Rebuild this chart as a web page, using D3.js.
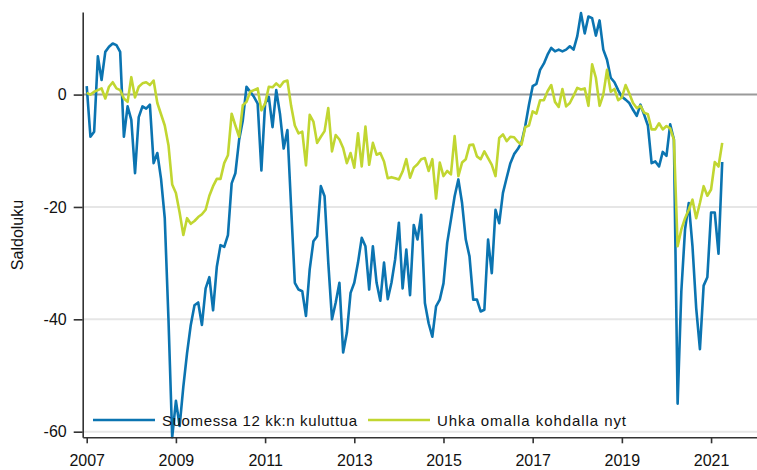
<!DOCTYPE html>
<html>
<head>
<meta charset="utf-8">
<script src="https://cdn.jsdelivr.net/npm/d3@7"></script>
<style>
  body { margin: 0; background: #fff; }
  svg { display: block; font-family: "Liberation Sans", Arial, sans-serif; }
</style>
</head>
<body>
<svg id="chart" width="757" height="470"></svg>
<script>
// monthly series, Jan 2007 - Apr 2021
const startYear = 2007;
const seriesNames = ["Suomessa 12 kk:n kuluttua", "Uhka omalla kohdalla nyt"];

const suomessa = [
  1.5, -7.5, -6.6, 6.8, 2.6, 7.6, 8.5, 9.1, 8.8, 7.6, -7.5, -2.1,
  -4.5, -14, -4, -2.1, -2.5, -1.8, -12.2, -10.4, -15, -22, -40, -61,
  -54.5, -59, -52, -46, -41, -37.5, -37, -41, -34.5, -32.5, -38.4, -30.7,
  -26.8, -27.1, -25, -15.8, -14, -8.1, -4.6, 1.4, 0.5, -0.4, -1.6, -13.5,
  -1.6, -0.4, -5.8, 0.8, -3.4, -9.6, -6.3, -20, -33.5, -34.7, -35, -39.4,
  -31.1, -26.1, -25.2, -16.3, -18.1, -29.9, -40, -37, -33.5, -45.9, -42.4, -35.3,
  -33.5, -29.9, -25.5, -27, -34.7, -27, -33.5, -36.7, -29.9, -36.4, -33.5, -29.3,
  -22.8, -34.5, -27.6, -35.7, -23.2, -25.8, -21.4, -37.1, -40.7, -43.1, -37.7, -36.5,
  -33.6, -26.4, -22.3, -18.1, -15.1, -19.3, -25.8, -28.8, -36.5, -36.5, -38.6, -38.3,
  -25.8, -31.8, -20.5, -22.9, -17.5, -14.8, -12.2, -10.6, -9.7, -8.5, -5.6, -1.8,
  1.5, 1.9, 4.4, 5.5, 7.1, 8.3, 7.7, 8, 7.7, 8, 8.6, 8,
  10.4, 14.5, 10.9, 13.9, 13.6, 10.5, 13.2, 8, 6.2, 3, 2.2, 0.8,
  -0.4, -0.9, -1.5, -2.7, -3.8, -1.8, -3.6, -5.5, -12.2, -11.9, -12.8, -10.2,
  -10.9, -5.3, -8, -55, -35, -24, -19.3, -27, -38, -45.3, -34, -32.5,
  -21, -21, -28.3, -12
];

const uhka = [
  0.3, 0, 0.5, 0.8, 1.1, -0.7, 1.4, 2.2, 1.1, 0.8, -0.7, -1.3,
  3.1, -0.5, 1.4, 2, 2.2, 1.7, 2.5, -1.5, -3.5, -5.5, -9, -16,
  -17.5, -21, -25, -22, -23, -22.5, -21.8, -21.3, -20.5, -18, -16.3, -15,
  -15, -12.2, -10.8, -3.4, -5.5, -7.5, -1.9, -1.3, 0.5, 0.8, 1.1, -2.8,
  -1.6, 1.4, 1.3, 2, 1.4, 2.3, 2.5, -2, -5.5, -6.9, -6.6, -12.6,
  -3.6, -4.8, -8.6, -7.5, -6.5, -2.4, -10.1, -7.2, -8, -9.5, -12.2, -10.4,
  -13, -6.9, -12.8, -5.7, -12.5, -8.6, -10.7, -10.4, -11.9, -14.9, -14.7, -14.9,
  -15.1, -13.7, -11.5, -14.8, -13, -12.4, -11.5, -11.3, -13.6, -11.5, -18.5, -12.1,
  -14.5, -13.6, -14.2, -7.4, -14.5, -12.1, -11.5, -9, -8.9, -11, -11.5, -10.1,
  -11.3, -12.5, -14.5, -7.7, -7.1, -8.3, -7.5, -7.6, -8.4, -8.9, -5.8, -5.5,
  -3, -3.4, -1, -1, 0.6, 1.7, -1.3, -2.2, 1, -2.1, -1.5, -0.2,
  1.2, 0.9, 1.1, -2, 5.4, 3, -2, 0, 4.4, 0.5, 1, -1,
  -0.5, 1.7, 0.2, -1.5, -2.4, -2, -3.2, -3.5, -6.2, -6.2, -5.1, -6.2,
  -5.6, -6, -8, -27, -24, -22, -20.5, -18.7, -22, -19.3, -16.3, -18,
  -16.9, -12, -12.8, -8.6
];

const xTicks = [2007, 2009, 2011, 2013, 2015, 2017, 2019, 2021];
const yTicks = [-60, -40, -20, 0];
const yTitle = "Saldoluku";

const colors = ["#0b74b1", "#c1d631"];

const svg = d3.select("#chart");

const x = d3.scaleLinear().domain([2006.91, 2022.03]).range([82.7, 757]);
const y = d3.scaleLinear().domain([-61, 14.7]).range([437.3, 12]);

// grid
svg.append("g")
  .selectAll("line")
  .data(yTicks)
  .enter()
  .append("line")
  .attr("x1", 83)
  .attr("x2", 757)
  .attr("y1", d => y(d))
  .attr("y2", d => y(d))
  .attr("stroke", d => d === 0 ? "#9a9a9a" : "#e6e6e6")
  .attr("stroke-width", 2);

// lines
const line = d3.line()
  .x((d, i) => x(startYear + i / 12))
  .y(d => y(d));

[suomessa, uhka].forEach((s, k) => {
  svg.append("path")
    .datum(s)
    .attr("fill", "none")
    .attr("stroke", colors[k])
    .attr("stroke-width", 2.6)
    .attr("stroke-linejoin", "round")
    .attr("d", line);
});

// axes
const yAxis = svg.append("g")
  .attr("transform", "translate(82.7,0)")
  .call(d3.axisLeft(y).tickValues(yTicks).tickFormat(d => String(d))
    .tickSize(9).tickSizeOuter(0).tickPadding(7));

const xAxis = svg.append("g")
  .attr("transform", "translate(0,437.3)")
  .call(d3.axisBottom(x).tickValues(xTicks).tickFormat(d => String(d))
    .tickSize(6).tickSizeOuter(0).tickPadding(11));

[yAxis, xAxis].forEach(g => {
  g.select(".domain").attr("stroke", "#333").attr("stroke-width", 1.6);
  g.selectAll(".tick line").attr("stroke", "#333").attr("stroke-width", 1.6);
  g.selectAll(".tick text")
    .attr("fill", "#111")
    .style("font-size", "16px")
    .style("font-family", "'Liberation Sans', Arial, sans-serif");
});

// y title
svg.append("text")
  .attr("transform", "translate(23,235) rotate(-90)")
  .attr("text-anchor", "middle")
  .style("font-size", "16px")
  .attr("fill", "#111")
  .text(yTitle);

// legend
const legendPos = [
  { x1: 93, x2: 155, tx: 162, w: 195 },
  { x1: 368, x2: 430, tx: 437, w: 189 }
];

const legend = svg.append("g").attr("class", "legend");
seriesNames.forEach((name, k) => {
  const p = legendPos[k];
  legend.append("line")
    .attr("x1", p.x1).attr("x2", p.x2)
    .attr("y1", 420).attr("y2", 420)
    .attr("stroke", colors[k])
    .attr("stroke-width", 2.6);
  legend.append("text")
    .attr("x", p.tx)
    .attr("y", 425.5)
    .attr("textLength", p.w)
    .attr("lengthAdjust", "spacing")
    .style("font-size", "15px")
    .attr("fill", "#111")
    .text(name);
});
</script>
</body>
</html>
